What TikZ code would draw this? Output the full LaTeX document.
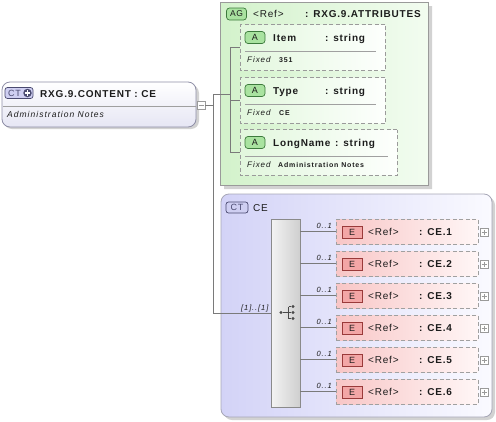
\documentclass[tikz,border=0pt]{standalone}
\usepackage{fontspec}
\newfontfamily\df[LetterSpace=8]{Liberation Sans}
\newfontfamily\dfs[LetterSpace=12]{Liberation Sans}
\usetikzlibrary{shapes.misc}
\definecolor{ink}{HTML}{1C1C1C}
\definecolor{lineg}{HTML}{7A7A7A}
\definecolor{shadowg}{HTML}{D2D2D2}
\definecolor{rootdraw}{HTML}{8E8EA6}
\definecolor{rootbot}{HTML}{E6E6F4}
\definecolor{ctfill}{HTML}{CFCFF2}
\definecolor{ctdraw}{HTML}{4A4A70}
\definecolor{agleft}{HTML}{D3F2CB}
\definecolor{agright}{HTML}{F2FCF0}
\definecolor{agdraw}{HTML}{9A9A9A}
\definecolor{attrleft}{HTML}{E2F7DD}
\definecolor{attrright}{HTML}{FDFFFD}
\definecolor{abfill}{HTML}{A9E3A0}
\definecolor{abdraw}{HTML}{3C7A3C}
\definecolor{celeft}{HTML}{D3D3F7}
\definecolor{ceright}{HTML}{FAFAFF}
\definecolor{cedraw}{HTML}{A6A6B6}
\definecolor{seqleft}{HTML}{F3F3F3}
\definecolor{seqright}{HTML}{CFCFCF}
\definecolor{seqdraw}{HTML}{8A8A8A}
\definecolor{elleft}{HTML}{F8C6C6}
\definecolor{elright}{HTML}{FFF6F6}
\definecolor{eldraw}{HTML}{A0A0A0}
\definecolor{ebfill}{HTML}{F3A6A6}
\definecolor{ebdraw}{HTML}{9A3A3A}
\definecolor{pmdraw}{HTML}{9A9A9A}
\definecolor{sepc}{HTML}{A0A0A0}
\tikzset{
  conn/.style={draw=lineg, line width=0.8pt},
  sepline/.style={draw=sepc, line width=0.7pt},
  rootbox/.style={draw=rootdraw, line width=0.8pt, rounded corners=8pt, top color=white, bottom color=rootbot, minimum width=194pt, minimum height=45pt, inner sep=0pt},
  ctbadge/.style={draw=ctdraw, fill=ctfill, rounded corners=2.5pt, line width=0.7pt, inner sep=0pt, minimum height=11pt, font=\df\fontsize{9}{10}\selectfont, text=ctdraw},
  agbox/.style={chamfered rectangle, chamfered rectangle corners={north west,south west}, chamfered rectangle sep=6pt, draw=agdraw, left color=agleft, right color=agright, line width=0.8pt, inner sep=0pt},
  agshadow/.style={chamfered rectangle, chamfered rectangle corners={north west,south west}, chamfered rectangle sep=6pt, fill=shadowg, draw=none, inner sep=0pt},
  attrbox/.style={chamfered rectangle, chamfered rectangle corners={north west,south west}, chamfered rectangle sep=6pt, draw=agdraw, dash pattern=on 4pt off 2.5pt, left color=attrleft, right color=attrright, line width=0.8pt, inner sep=0pt},
  abadge/.style={rectangle, rounded corners=3pt, draw=abdraw, fill=abfill, line width=0.7pt, inner sep=0pt, minimum width=20pt, minimum height=12pt, font=\df\fontsize{9}{10}\selectfont, text=ink},
  cebox/.style={draw=cedraw, line width=0.8pt, rounded corners=8pt, left color=celeft, right color=ceright, inner sep=0pt},
  seqbox/.style={draw=seqdraw, line width=0.7pt, left color=seqleft, right color=seqright, inner sep=0pt},
  elbox/.style={draw=eldraw, dash pattern=on 4pt off 2.5pt, line width=0.8pt, left color=elleft, right color=elright, inner sep=0pt, minimum width=142pt, minimum height=25pt},
  ebadge/.style={draw=ebdraw, fill=ebfill, line width=0.7pt, inner sep=0pt, minimum width=20pt, minimum height=12pt, font=\df\fontsize{9}{10}\selectfont, text=ink},
  pmbox/.style={draw=pmdraw, fill=white, line width=0.6pt, minimum size=8pt, inner sep=0pt},
  pmsign/.style={draw=pmdraw, line width=0.7pt},
  tb/.style={inner sep=0pt, anchor=base west, text=ink, font=\df\bfseries\fontsize{10}{12}\selectfont},
  tr/.style={inner sep=0pt, anchor=base west, text=ink, font=\df\fontsize{10}{12}\selectfont},
  ti/.style={inner sep=0pt, anchor=base west, text=ink, font=\dfs\itshape\fontsize{8.5}{10}\selectfont},
  tfix/.style={inner sep=0pt, anchor=base west, text=ink, font=\dfs\itshape\fontsize{8}{10}\selectfont},
  tval/.style={inner sep=0pt, anchor=base west, text=ink, font=\dfs\bfseries\fontsize{7}{8}\selectfont},
  tmul/.style={inner sep=0pt, anchor=base west, text=ink, font=\dfs\itshape\fontsize{7.5}{9}\selectfont},
  dotn/.style={circle, fill=ink!80, inner sep=0pt, minimum size=3.4pt}
}
\begin{document}
\begin{tikzpicture}[x=1pt,y=-1pt]
\useasboundingbox (0,0) rectangle (496,421);

% ---------- root element ----------
\fill[shadowg, rounded corners=8pt] (4,85) rectangle (199,129);
\node[rootbox] (root) at (99,104.5) {};
\coordinate (rsepL) at (3,106);
\coordinate (rsepR) at (196,106);
\draw[sepline] (rsepL) -- (rsepR);
\node[ctbadge, minimum width=28pt] (rootct) at (19,93) {};
\node[inner sep=0pt, anchor=base west, text=ctdraw, font=\df\fontsize{9}{10}\selectfont] (rootctt) at (8,96.3) {CT};
\node[circle, fill=ctdraw, minimum size=8.5pt, inner sep=0pt] (rootplus) at (27.5,93) {};
\draw[white, line width=1.2pt] ([xshift=-2.6pt]rootplus.center) -- ([xshift=2.6pt]rootplus.center);
\draw[white, line width=1.2pt] ([yshift=-2.6pt]rootplus.center) -- ([yshift=2.6pt]rootplus.center);
\node[tb] (roott) at (40,97) {RXG.9.CONTENT : CE};
\node[ti] (rootn) at (7,117.5) {Administration Notes};
\node[pmbox] (rootpm) at (201,105) {};
\draw[pmsign] ([xshift=-2.5pt]rootpm.center) -- ([xshift=2.5pt]rootpm.center);

% ---------- attribute group ----------
\node[agshadow, minimum width=208pt, minimum height=183pt] (agsh) at (328,97.5) {};
\node[agbox, minimum width=208pt, minimum height=183pt] (ag) at (324,93.5) {};
\node[abadge, minimum width=20pt, font=\df\fontsize{8.5}{10}\selectfont] (agb) at (236.5,14) {AG};
\node[tr] (agref) at (253,17.5) {<Ref>};
\node[tb] (agname) at (305,17.5) {: RXG.9.ATTRIBUTES};

\foreach \n/\cy/\w/\nm/\tx/\val/\vx in {a1/47.5/145/Item/325/351/279, a2/100.5/145/Type/325/CE/279, a3/152.5/157/LongName/335/Administration Notes/278}{
  \node[attrbox, minimum width=\w pt, minimum height=46pt] (\n) at ({240+\w/2},\cy) {};
  \coordinate (\n sl) at (245,{\cy+4});
  \coordinate (\n sr) at ({240+\w-9},{\cy+4});
  \draw[sepline] (\n sl) -- (\n sr);
  \node[abadge] (\n b) at (255,{\cy-10}) {A};
  \node[tb] (\n t) at (273,{\cy-6.5}) {\nm};
  \node[tb] (\n s) at (\tx,{\cy-6.5}) {: string};
  \node[tfix] (\n f) at (247,{\cy+15}) {Fixed};
  \node[tval] (\n v) at (\vx,{\cy+15}) {\val};
}

% ---------- complex type CE ----------
\fill[shadowg, rounded corners=8pt] (224,197) rectangle (495,420);
\node[cebox, minimum width=271pt, minimum height=223pt] (ce) at (356.5,305.5) {};
\node[ctbadge, minimum width=22pt] (cect) at (237,207.5) {CT};
\node[tr] (cet) at (253,211) {CE};
\node[seqbox, minimum width=29pt, minimum height=188pt] (seq) at (285.5,313) {};
% sequence icon
\node[dotn] (sq0) at (281,312.5) {};
\node[dotn] (sq1) at (293,306.5) {};
\node[dotn] (sq2) at (293,312.5) {};
\node[dotn] (sq3) at (293,318.5) {};
\coordinate (sqbar) at (288.5,312.5);
\draw[ink!80, line width=0.8pt] (sq0) -- (sqbar);
\draw[ink!80, line width=0.8pt] (sqbar |- sq1) -- (sqbar |- sq3);
\draw[ink!80, line width=0.8pt] (sqbar |- sq1) -- (sq1);
\draw[ink!80, line width=0.8pt] (sqbar |- sq2) -- (sq2);
\draw[ink!80, line width=0.8pt] (sqbar |- sq3) -- (sq3);

% ---------- connectors ----------
\coordinate (trunktop) at (213,94);
\coordinate (trunkbot) at (213,313);
\coordinate (abus) at (230,94);
\draw[conn] (rootpm.east) -- (rootpm.east -| trunktop);
\draw[conn] (trunktop) -- (trunkbot);
\draw[conn] (trunktop) -- (abus);
\draw[conn] (abus |- a1.west) -- (abus |- a3.west);
\foreach \n in {a1,a2,a3}{ \draw[conn] (abus |- \n.west) -- (\n.west); }
\draw[conn] (trunkbot) -- (seq.west);
\node[tmul] (mult) at (241,310) {[1]..[1]};

% ---------- elements ----------
\foreach \i/\y in {1/232,2/264,3/296,4/328,5/360,6/392}{
  \node[elbox] (e\i) at (407,{\y-0.5}) {};
  \draw[conn] (seq.east |- e\i.west) -- (e\i.west);
  \node[tmul, anchor=base east] (m\i) at (332,{\y-3.5}) {0..1};
  \node[ebadge] (eb\i) at (352,\y) {E};
  \node[tr] (er\i) at (368,{\y+3.5}) {<Ref>};
  \node[tb] (en\i) at (419,{\y+3.5}) {: CE.\i};
  \node[pmbox] (p\i) at (484,\y) {};
  \draw[pmsign] ([xshift=-2.5pt]p\i.center) -- ([xshift=2.5pt]p\i.center);
  \draw[pmsign] ([yshift=-2.5pt]p\i.center) -- ([yshift=2.5pt]p\i.center);
}
\end{tikzpicture}
\end{document}
